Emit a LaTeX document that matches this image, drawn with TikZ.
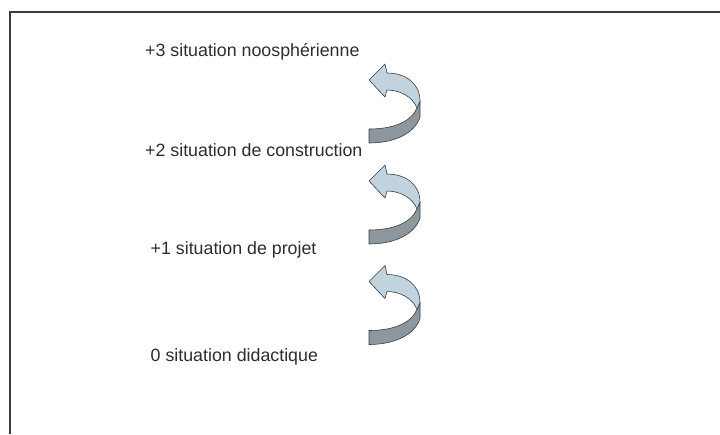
\documentclass[tikz,border=0pt]{standalone}
\usepackage{fontspec}
\setmainfont{Liberation Sans}
\usepackage{xcolor}
\usetikzlibrary{calc}

\definecolor{ribbontop}{RGB}{192,211,222}
\definecolor{ribbonside}{RGB}{141,151,157}
\definecolor{edgegray}{RGB}{60,60,60}
\definecolor{textgray}{RGB}{45,45,45}

\begin{document}
\begin{tikzpicture}[x=1pt, y=-1pt,
		level/.style = {anchor=base west, inner sep=0pt, text=textgray,
			font=\fontsize{17.8}{20}\selectfont},
		ribbon/.style = {draw=edgegray, line width=0.6pt, line join=round},
		turnarrow/.pic = {
			% front side of the band
			\filldraw[ribbon, fill=ribbonside] (51,21) -- (51,37)
				.. controls (46,53) and (26,63) .. (0,63) -- (0,49)
				.. controls (24,49) and (42,42) .. (48,28) -- cycle;
			% top side with the head
			\filldraw[ribbon, fill=ribbontop] (0,0) -- (16,-16) -- (18,-7)
				.. controls (36,-7) and (51,3) .. (51,21) -- (48,28)
				.. controls (44,17) and (31,10) .. (18,10) -- (16,17) -- cycle;
		}]
		\useasboundingbox (0,0) rectangle (720,434);
		
		\draw[edgegray, line width=1.6pt] (10,434) -- (10,12) -- (720,12);
		
		\node[level] (s3) at (145,56.5) {+3 situation noosphérienne};
		\node[level] (s2) at (145,156.5) {+2 situation de construction};
		\node[level] (s1) at (150.5,254) {+1 situation de projet};
		\node[level] (s0) at (150.5,361) {0 situation didactique};
		
		\pic (a3) at (369,80) {turnarrow};
		\pic (a2) at (369,181) {turnarrow};
		\pic (a1) at (369,281.5) {turnarrow};
	\end{tikzpicture}
\end{document}
